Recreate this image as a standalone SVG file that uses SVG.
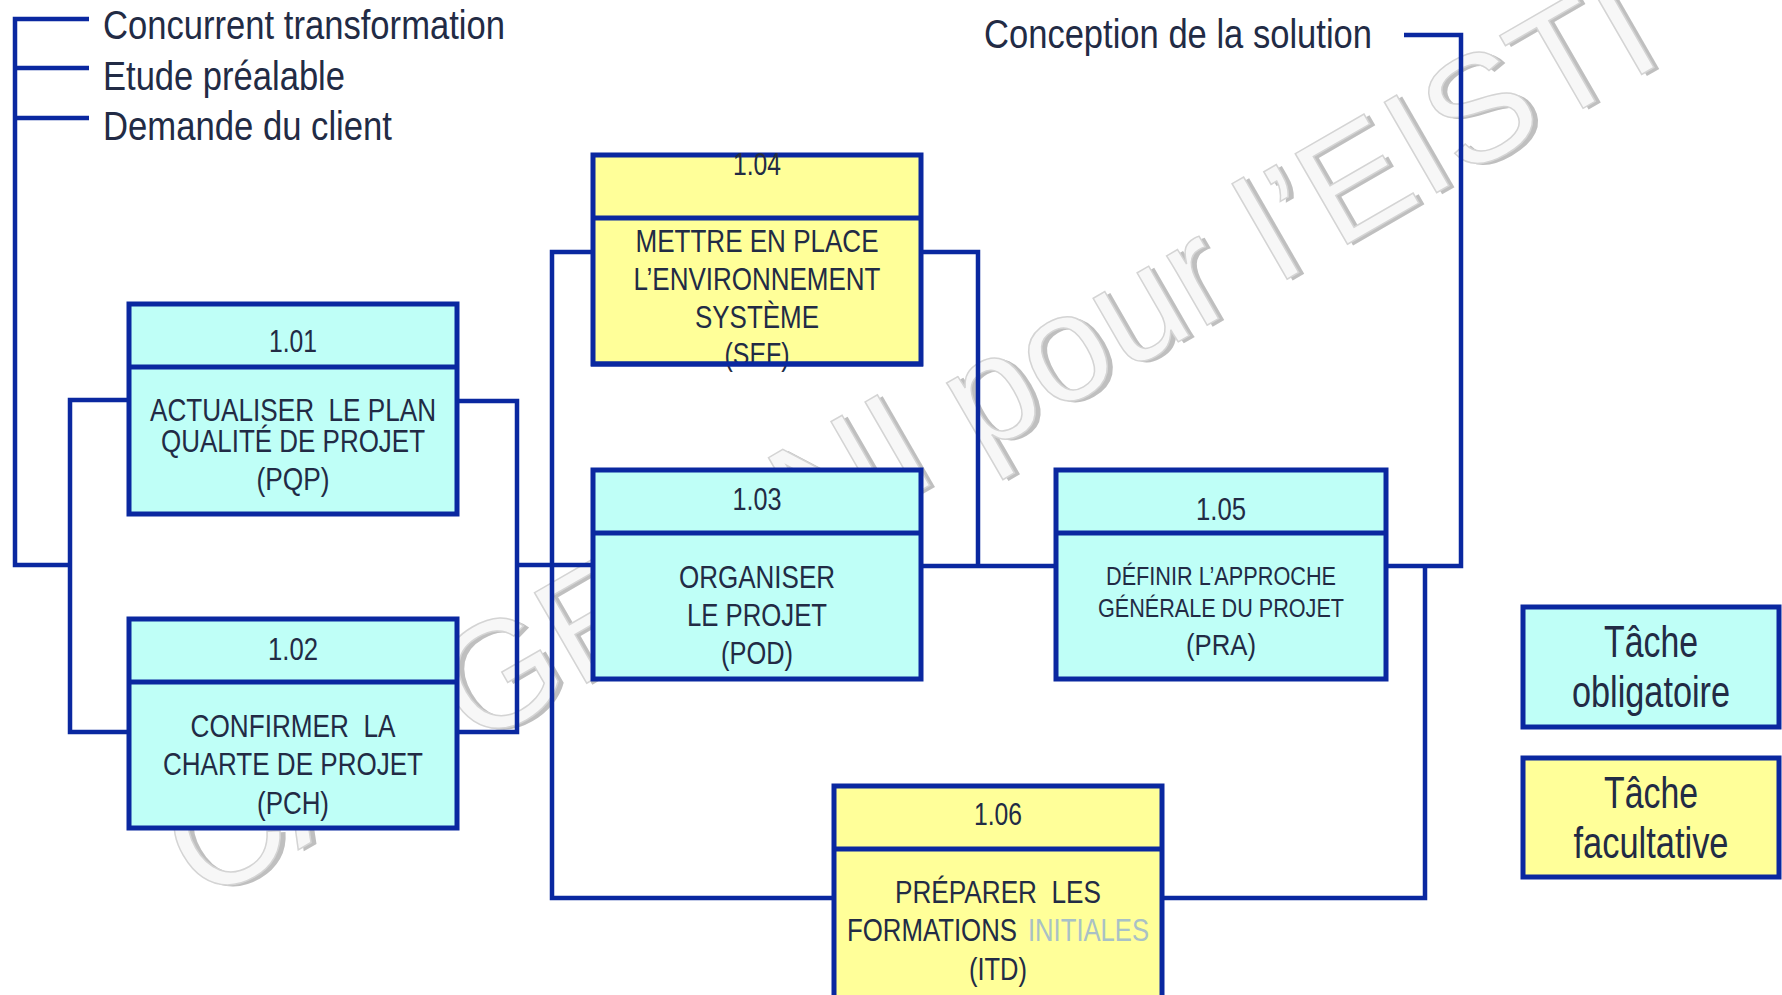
<svg xmlns="http://www.w3.org/2000/svg" width="1782" height="995" viewBox="0 0 1782 995">
<style>
.bg{fill:#ffffff}
.wm{font-family:"Liberation Sans",Arial,sans-serif;font-size:152px;}
.wms{fill:#bfbfbf;}
.wmf{fill:#f7f7f7;stroke:#d4d4d4;stroke-width:1.5}
.cn{fill:none;stroke:#0a28a0;stroke-width:4.5;stroke-linejoin:miter;stroke-linecap:butt}
.box{stroke:#0a28a0;stroke-width:5}
.cy{fill:#bffff7}
.ye{fill:#ffff99}
.div{stroke:#0a28a0;stroke-width:5}
.t{font-family:"Liberation Sans",Arial,sans-serif;fill:#222b45;font-size:32px;text-anchor:middle}
.s{font-size:26px}
.m{font-size:30px}
.lbl{font-family:"Liberation Sans",Arial,sans-serif;fill:#222b45;font-size:41px}
.lg{font-size:44px}
.gr{fill:#a9c1c6}
</style>
<rect class="bg" x="0" y="0" width="1782" height="995"/>
<g id="watermark" transform="translate(203,905) rotate(-30)">
<text class="wm wms" x="4" y="4">CAPGEMINI pour l’EISTI</text>
<text class="wm wmf" x="0" y="0">CAPGEMINI pour l’EISTI</text>
</g>
<g id="connectors">
<path class="cn" d="M89,19 H15 V565 H70"/>
<path class="cn" d="M15,68 H89"/>
<path class="cn" d="M15,118 H89"/>
<path class="cn" d="M129,400 H70 V732 H129"/>
<path class="cn" d="M457,401 H517 V732 H457"/>
<path class="cn" d="M517,565 H593"/>
<path class="cn" d="M593,252 H552 V898 H834"/>
<path class="cn" d="M921,252 H978 V566"/>
<path class="cn" d="M921,566 H1056"/>
<path class="cn" d="M1386,566 H1461 V35 H1404"/>
<path class="cn" d="M1425,566 V898 H1162"/>
</g>
<g id="labels">
<text class="lbl" x="103" y="39" textLength="402" lengthAdjust="spacingAndGlyphs">Concurrent transformation</text>
<text class="lbl" x="103" y="90" textLength="242" lengthAdjust="spacingAndGlyphs">Etude préalable</text>
<text class="lbl" x="103" y="140" textLength="289" lengthAdjust="spacingAndGlyphs">Demande du client</text>
<text class="lbl" x="984" y="48" textLength="388" lengthAdjust="spacingAndGlyphs">Conception de la solution</text>
</g>
<g id="n101">
<rect class="box cy" x="129" y="304" width="328" height="210"/>
<line class="div" x1="127" y1="367" x2="459" y2="367"/>
<text class="t" x="293" y="352" textLength="48" lengthAdjust="spacingAndGlyphs">1.01</text>
<text class="t" x="293" y="421" textLength="286" lengthAdjust="spacingAndGlyphs">ACTUALISER &#160;LE PLAN</text>
<text class="t" x="293" y="452" textLength="264" lengthAdjust="spacingAndGlyphs">QUALITÉ DE PROJET</text>
<text class="t" x="293" y="490" textLength="73" lengthAdjust="spacingAndGlyphs">(PQP)</text>
</g>
<g id="n102">
<rect class="box cy" x="129" y="619" width="328" height="209"/>
<line class="div" x1="127" y1="682" x2="459" y2="682"/>
<text class="t" x="293" y="660" textLength="50" lengthAdjust="spacingAndGlyphs">1.02</text>
<text class="t" x="293" y="737" textLength="205" lengthAdjust="spacingAndGlyphs">CONFIRMER &#160;LA</text>
<text class="t" x="293" y="775" textLength="260" lengthAdjust="spacingAndGlyphs">CHARTE DE PROJET</text>
<text class="t" x="293" y="814" textLength="72" lengthAdjust="spacingAndGlyphs">(PCH)</text>
</g>
<g id="n104">
<rect class="box ye" x="593" y="155" width="328" height="209"/>
<line class="div" x1="591" y1="218" x2="923" y2="218"/>
<text class="t" x="757" y="175" textLength="48" lengthAdjust="spacingAndGlyphs">1.04</text>
<text class="t" x="757" y="252" textLength="243" lengthAdjust="spacingAndGlyphs">METTRE EN PLACE</text>
<text class="t" x="757" y="290" textLength="247" lengthAdjust="spacingAndGlyphs">L’ENVIRONNEMENT</text>
<text class="t" x="757" y="328" textLength="124" lengthAdjust="spacingAndGlyphs">SYSTÈME</text>
<text class="t" x="757" y="365" textLength="65" lengthAdjust="spacingAndGlyphs">(SEF)</text>
<line class="div" x1="591" y1="364" x2="923" y2="364"/>
</g>
<g id="n103">
<rect class="box cy" x="593" y="470" width="328" height="209"/>
<line class="div" x1="591" y1="533" x2="923" y2="533"/>
<text class="t" x="757" y="510" textLength="49" lengthAdjust="spacingAndGlyphs">1.03</text>
<text class="t" x="757" y="588" textLength="156" lengthAdjust="spacingAndGlyphs">ORGANISER</text>
<text class="t" x="757" y="626" textLength="140" lengthAdjust="spacingAndGlyphs">LE PROJET</text>
<text class="t" x="757" y="664" textLength="72" lengthAdjust="spacingAndGlyphs">(POD)</text>
</g>
<g id="n105">
<rect class="box cy" x="1056" y="470" width="330" height="209"/>
<line class="div" x1="1054" y1="533" x2="1388" y2="533"/>
<text class="t" x="1221" y="520" textLength="50" lengthAdjust="spacingAndGlyphs">1.05</text>
<text class="t s" x="1221" y="585" textLength="230" lengthAdjust="spacingAndGlyphs">DÉFINIR L’APPROCHE</text>
<text class="t s" x="1221" y="617" textLength="246" lengthAdjust="spacingAndGlyphs">GÉNÉRALE DU PROJET</text>
<text class="t m" x="1221" y="655" textLength="70" lengthAdjust="spacingAndGlyphs">(PRA)</text>
</g>
<g id="n106">
<rect class="box ye" x="834" y="786" width="328" height="240"/>
<line class="div" x1="832" y1="849" x2="1164" y2="849"/>
<text class="t" x="998" y="825" textLength="48" lengthAdjust="spacingAndGlyphs">1.06</text>
<text class="t" x="998" y="903" textLength="206" lengthAdjust="spacingAndGlyphs">PRÉPARER &#160;LES</text>
<text class="t" x="847" y="941" style="text-anchor:start" textLength="170" lengthAdjust="spacingAndGlyphs">FORMATIONS</text>
<text class="t gr" x="1028" y="941" style="text-anchor:start" textLength="121" lengthAdjust="spacingAndGlyphs">INITIALES</text>
<text class="t" x="998" y="980" textLength="58" lengthAdjust="spacingAndGlyphs">(ITD)</text>
</g>
<g id="legend-obligatoire">
<rect class="box cy" x="1523" y="607" width="256" height="120"/>
<text class="t lg" x="1651" y="657" textLength="94" lengthAdjust="spacingAndGlyphs">Tâche</text>
<text class="t lg" x="1651" y="707" textLength="158" lengthAdjust="spacingAndGlyphs">obligatoire</text>
</g>
<g id="legend-facultative">
<rect class="box ye" x="1523" y="758" width="256" height="119"/>
<text class="t lg" x="1651" y="808" textLength="94" lengthAdjust="spacingAndGlyphs">Tâche</text>
<text class="t lg" x="1651" y="858" textLength="155" lengthAdjust="spacingAndGlyphs">facultative</text>
</g>
</svg>
